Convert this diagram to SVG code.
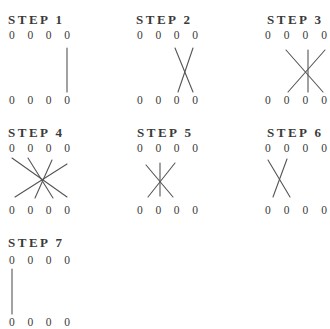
<svg xmlns="http://www.w3.org/2000/svg" width="330" height="329" viewBox="0 0 330 329">
<style>
.bg{fill:#ffffff}
.t{font-family:"Liberation Serif","Times New Roman",serif;font-size:13px;font-weight:bold;fill:#3a3a3a}
.d{font-family:"Liberation Serif","Times New Roman",serif;font-size:11.5px;fill:#3a3a3a}
.ln{stroke:#555;stroke-width:1.1;fill:none;stroke-linecap:round}
</style>
<rect class="bg" width="330" height="329"/>
<g id="step1">
<text class="t" x="8" y="24" textLength="54" lengthAdjust="spacing">STEP 1</text>
<text class="d" x="9" y="39" textLength="61" lengthAdjust="spacing">0 0 0 0</text>
<text class="d" x="9" y="104" textLength="61" lengthAdjust="spacing">0 0 0 0</text>
</g>
<g id="step2">
<text class="t" x="136" y="24" textLength="54" lengthAdjust="spacing">STEP 2</text>
<text class="d" x="137" y="39" textLength="61" lengthAdjust="spacing">0 0 0 0</text>
<text class="d" x="137" y="104" textLength="61" lengthAdjust="spacing">0 0 0 0</text>
</g>
<g id="step3">
<text class="t" x="267" y="24" textLength="54" lengthAdjust="spacing">STEP 3</text>
<text class="d" x="265" y="39" textLength="62" lengthAdjust="spacing">0 0 0 0</text>
<text class="d" x="265" y="104" textLength="62" lengthAdjust="spacing">0 0 0 0</text>
</g>
<g id="step4">
<text class="t" x="8" y="137" textLength="54" lengthAdjust="spacing">STEP 4</text>
<text class="d" x="9" y="152" textLength="61" lengthAdjust="spacing">0 0 0 0</text>
<text class="d" x="9" y="214" textLength="61" lengthAdjust="spacing">0 0 0 0</text>
</g>
<g id="step5">
<text class="t" x="137" y="137" textLength="54" lengthAdjust="spacing">STEP 5</text>
<text class="d" x="137" y="152" textLength="61" lengthAdjust="spacing">0 0 0 0</text>
<text class="d" x="137" y="214" textLength="61" lengthAdjust="spacing">0 0 0 0</text>
</g>
<g id="step6">
<text class="t" x="267" y="137" textLength="54" lengthAdjust="spacing">STEP 6</text>
<text class="d" x="265" y="152" textLength="62" lengthAdjust="spacing">0 0 0 0</text>
<text class="d" x="265" y="214" textLength="62" lengthAdjust="spacing">0 0 0 0</text>
</g>
<g id="step7">
<text class="t" x="8" y="247" textLength="54" lengthAdjust="spacing">STEP 7</text>
<text class="d" x="9" y="264" textLength="61" lengthAdjust="spacing">0 0 0 0</text>
<text class="d" x="9" y="326" textLength="61" lengthAdjust="spacing">0 0 0 0</text>
</g>
<g id="connectors">
<line class="ln" x1="67" y1="48" x2="67" y2="92"/>
<line class="ln" x1="175" y1="48" x2="193" y2="92"/>
<line class="ln" x1="193" y1="48" x2="178" y2="92"/>
<line class="ln" x1="286" y1="50" x2="323" y2="92"/>
<line class="ln" x1="325" y1="50" x2="288" y2="92"/>
<line class="ln" x1="308" y1="50" x2="308" y2="92"/>
<line class="ln" x1="12" y1="158" x2="67" y2="197"/>
<line class="ln" x1="28" y1="158" x2="53" y2="198"/>
<line class="ln" x1="52" y1="160" x2="35" y2="198"/>
<line class="ln" x1="67" y1="164" x2="15" y2="197"/>
<line class="ln" x1="160" y1="163" x2="160" y2="196"/>
<line class="ln" x1="146" y1="165" x2="173" y2="197"/>
<line class="ln" x1="175" y1="163" x2="148" y2="197"/>
<line class="ln" x1="268" y1="160" x2="290" y2="197"/>
<line class="ln" x1="287" y1="159" x2="273" y2="197"/>
<line class="ln" x1="12" y1="269" x2="12" y2="314"/>
</g>
</svg>
